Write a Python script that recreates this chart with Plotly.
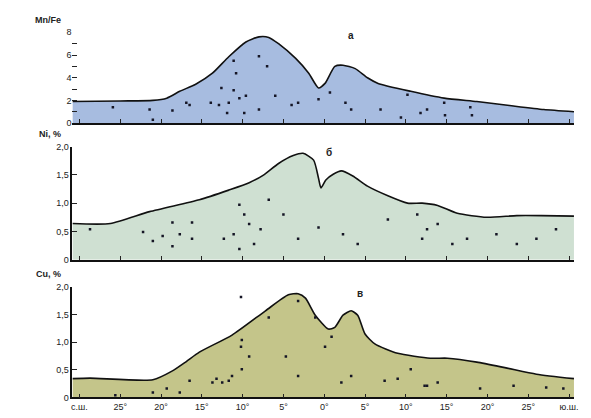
import plotly.graph_objects as go

# Latitude coordinate: negative = northern hemisphere, positive = southern
lat_ticks = [-30, -25, -20, -15, -10, -5, 0, 5, 10, 15, 20, 25, 30]
lat_labels = ["с.ш.", "25°", "20°", "15°", "10°", "5°", "0°", "5°", "10°", "15°", "20°", "25°", "ю.ш."]

# а) Mn/Fe profile
mnfe_lat = [-30.85, -25, -21, -19.3, -17.7, -15.7, -13.7, -11.7, -9.6, -8.0, -6.8, -5.6, -3.5,
            -1.9, -0.7, 0.1, 1.3, 2.3, 3.8, 5.3, 6.6, 10.6, 14.7, 18.7, 22.7, 26.9, 30.6]
mnfe_val = [1.9, 1.95, 2.0, 2.2, 2.8, 3.45, 4.4, 5.85, 7.15, 7.6, 7.55, 7.0, 5.7,
            4.4, 3.1, 3.5, 5.0, 5.1, 4.8, 4.0, 3.5, 2.8, 2.2, 1.9, 1.55, 1.2, 1.0]

# б) Ni, %
ni_lat = [-30.85, -26.2, -21.4, -15.3, -11.7, -9.2, -7.4, -5.6, -3.8, -2.6, -1.3, -0.7, -0.4,
          0.2, 1.1, 2.1, 3.5, 5.3, 7.8, 10.2, 12.0, 13.9, 16.3, 19.9, 23.6, 26.6, 30.6]
ni_val = [0.64, 0.64, 0.85, 1.06, 1.23, 1.36, 1.50, 1.70, 1.84, 1.88, 1.76, 1.44, 1.27,
          1.41, 1.51, 1.57, 1.48, 1.30, 1.13, 1.00, 1.00, 0.96, 0.82, 0.75, 0.78, 0.78, 0.77]

# в) Cu, %
cu_lat = [-30.85, -28.7, -21.0, -18.6, -16.9, -15.3, -11.3, -7.2, -4.4, -3.2, -2.3, -1.1, 0.5,
          1.3, 2.3, 3.3, 4.1, 5.0, 6.2, 9.0, 13.0, 15.1, 18.7, 22.4, 26.0, 30.6]
cu_val = [0.34, 0.35, 0.32, 0.48, 0.65, 0.82, 1.13, 1.57, 1.86, 1.88, 1.80, 1.49, 1.24,
          1.27, 1.49, 1.57, 1.49, 1.15, 0.97, 0.80, 0.71, 0.71, 0.64, 0.53, 0.42, 0.34]

# Sampling stations
mnfe_st_lat = [-11.1, -8.0, -10.8, -12.6, -11.1, -13.9, -12.9, -11.7, -8.0, -6.0, -4.0, -3.2, -0.7,
               0.7, 2.6, 3.3, -9.6, -7.0, -16.5, 6.9, 9.4, 11.8, 12.6, 14.7, 14.8, 17.9, 18.1,
               10.2, -25.9, -21.4, -18.6, -16.9, -21.0, -10.4, -9.8, -11.9]
mnfe_st_val = [5.5, 5.9, 4.4, 3.1, 2.9, 1.8, 1.6, 1.8, 1.2, 2.4, 1.6, 1.8, 2.1,
               2.7, 1.8, 1.2, 2.4, 5.0, 1.6, 1.2, 0.5, 0.9, 1.2, 1.8, 0.7, 1.4, 0.7,
               2.5, 1.4, 1.2, 1.1, 1.8, 0.3, 2.2, 0.9, 0.9]

ni_st_lat = [-28.7, -18.6, -19.8, -21.0, -17.7, -16.2, -16.2, -18.6, -22.2, -10.4, -9.8, -9.2,
             -11.1, -12.3, -8.6, -10.4, -7.8, -6.8, -5.0, -3.2, -0.7, 2.3, 4.1, 7.8, 11.4,
             12.0, 12.6, 13.9, 15.7, 17.5, 21.1, 23.6, 26.0, 28.4]
ni_st_val = [0.54, 0.66, 0.42, 0.33, 0.45, 0.37, 0.66, 0.24, 0.49, 0.97, 0.80, 0.63,
             0.45, 0.37, 0.28, 0.19, 0.54, 1.06, 0.80, 0.37, 0.57, 0.45, 0.28, 0.71, 0.80,
             0.37, 0.54, 0.63, 0.28, 0.37, 0.45, 0.28, 0.37, 0.54]

cu_st_lat = [-10.2, -10.1, -10.2, -9.2, -10.1, -11.3, -12.5, -13.2, -3.2, -1.1, 0.1, 0.9, -3.2,
             2.1, 3.3, 9.0, 10.6, 12.6, 13.9, -4.7, -6.8, -25.6, -21.0, -19.3, -17.7, -16.5,
             -13.7, -11.7, 7.4, 12.3, 19.1, 23.2, 27.2, 29.3]
cu_st_val = [1.82, 1.04, 0.92, 0.74, 0.51, 0.39, 0.27, 0.34, 1.75, 1.45, 0.92, 1.10, 0.39,
             0.27, 0.39, 0.34, 0.51, 0.21, 0.27, 0.74, 1.45, 0.04, 0.09, 0.16, 0.09, 0.30,
             0.27, 0.30, 0.30, 0.21, 0.16, 0.21, 0.18, 0.16]

W, H = 591, 418
X0, X1 = 72, 578
x_range = [-30.86, 30.62]

panels = [
    # (lat, val, st_lat, st_val, fill, y-range, top px, bottom px, ticks, labels, title, letter, letter pos, spine)
    (mnfe_lat, mnfe_val, mnfe_st_lat, mnfe_st_val, "#a7bce0", [0, 8], 28, 121,
     [0, 1, 2, 3, 4, 5, 6, 7, 8], ["0", "", "2", "", "4", "", "6", "", "8"],
     "Mn/Fe", "а", (3.3, 7.7), False),
    (ni_lat, ni_val, ni_st_lat, ni_st_val, "#cfe0d2", [0, 2], 145, 261,
     [0, 0.5, 1.0, 1.5, 2.0], ["0", "0,5", "1,0", "1,5", "2,0"],
     "Ni, %", "б", (0.6, 1.9), True),
    (cu_lat, cu_val, cu_st_lat, cu_st_val, "#c4c58a", [0, 2], 289, 402,
     [0, 0.5, 1.0, 1.5, 2.0], ["0", "0,5", "1,0", "1,5", "2,0"],
     "Cu, %", "в", (4.4, 1.88), True),
]

fig = go.Figure()
font = dict(family="Liberation Sans, Arial, sans-serif", size=9, color="#222222")
layout = dict(
    width=W, height=H, margin=dict(l=0, r=0, t=0, b=0),
    paper_bgcolor="white", plot_bgcolor="white", showlegend=False, font=font,
)
annotations = []

for i, (lat, val, slat, sval, fill, yr, top, bot, yt, ytl, title, letter, lpos, spine) in enumerate(panels, start=1):
    xa = "x" if i == 1 else f"x{i}"
    ya = "y" if i == 1 else f"y{i}"
    fig.add_trace(go.Scatter(
        x=lat, y=val, xaxis=xa, yaxis=ya, mode="lines", fill="tozeroy",
        fillcolor=fill, line=dict(color="#111111", width=1.6, shape="spline", smoothing=0.6),
        hoverinfo="skip",
    ))
    fig.add_trace(go.Scatter(
        x=slat, y=sval, xaxis=xa, yaxis=ya, mode="markers",
        marker=dict(symbol="square", size=2.5, color="#151525"),
        hoverinfo="skip",
    ))
    layout[f"xaxis{'' if i == 1 else i}"] = dict(
        domain=[X0 / W, X1 / W], range=x_range, anchor=ya,
        tickmode="array", tickvals=lat_ticks,
        ticktext=lat_labels if i == 3 else [""] * len(lat_ticks),
        ticks="inside", ticklen=4, tickcolor="#222", tickwidth=1,
        showline=True, linecolor="#111111", linewidth=1.6,
        showgrid=False, zeroline=False, tickfont=dict(size=9, color="#222"),
    )
    layout[f"yaxis{'' if i == 1 else i}"] = dict(
        domain=[1 - bot / H, 1 - top / H], range=yr, anchor=xa,
        tickmode="array", tickvals=yt, ticktext=ytl,
        ticks="inside", ticklen=5, tickcolor="#222", tickwidth=1,
        showline=spine, linecolor="#111111", linewidth=1.6,
        showgrid=False, zeroline=False, tickfont=dict(size=9, color="#222"),
    )
    annotations.append(dict(
        x=63 / W, y=1 - (top - 13) / H, xref="paper", yref="paper",
        text=f"<b>{title}</b>", showarrow=False, xanchor="right", yanchor="middle",
        font=dict(size=9, color="#222"),
    ))
    annotations.append(dict(
        x=lpos[0], y=lpos[1], xref=xa, yref=ya, text=f"<b>{letter}</b>",
        showarrow=False, font=dict(size=10, color="#222"),
    ))

layout["annotations"] = annotations
fig.update_layout(**layout)
fig.write_html("out.html")
